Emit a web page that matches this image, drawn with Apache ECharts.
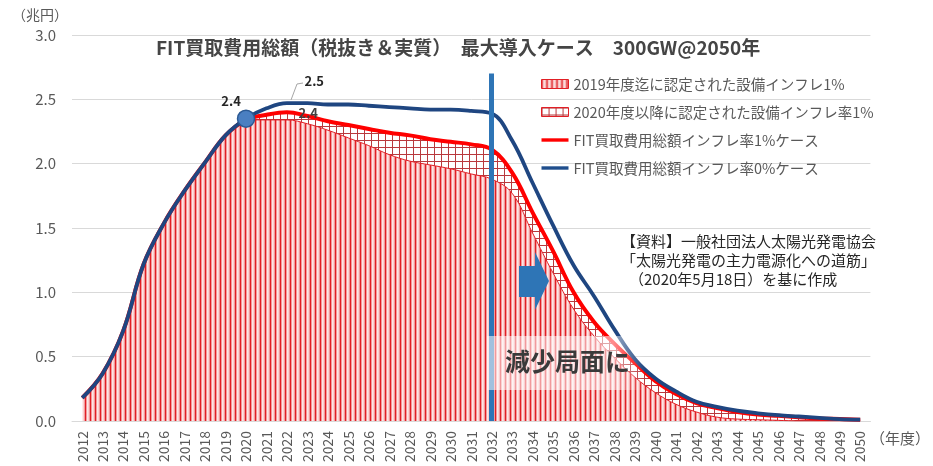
<!DOCTYPE html>
<html>
<head>
<meta charset="utf-8">
<script src="https://cdn.jsdelivr.net/npm/echarts@6/dist/echarts.min.js"></script>
<style>
  html, body { margin: 0; padding: 0; background: #fff; }
  #main { width: 933px; height: 466px; }
</style>
</head>
<body>
<div id="main"></div>
<script>
  // 年度
  var years = ['2012', '2013', '2014', '2015', '2016', '2017', '2018', '2019', '2020', '2021',
    '2022', '2023', '2024', '2025', '2026', '2027', '2028', '2029', '2030', '2031',
    '2032', '2033', '2034', '2035', '2036', '2037', '2038', '2039', '2040', '2041',
    '2042', '2043', '2044', '2045', '2046', '2047', '2048', '2049', '2050'];

  // 2019年度迄に認定された設備（縦縞）
  var certBefore2019 = [0.18, 0.37, 0.70, 1.22, 1.54, 1.79, 2.01, 2.22, 2.34,
    2.34, 2.34, 2.31, 2.26, 2.20, 2.14, 2.07, 2.02, 1.99, 1.96, 1.92, 1.88,
    1.77, 1.46, 1.15, 0.87, 0.66, 0.49, 0.34, 0.22, 0.13, 0.07, 0.03, 0.015, 0.01, 0.005, 0, 0, 0, 0];

  // 2020年度以降に認定された設備（格子）
  var certAfter2020 = [0, 0, 0, 0, 0, 0, 0, 0, 0,
    0.04, 0.06, 0.06, 0.07, 0.10, 0.13, 0.17, 0.20, 0.20, 0.21, 0.23, 0.23,
    0.16, 0.16, 0.17, 0.13, 0.11, 0.11, 0.11, 0.09, 0.08, 0.07, 0.07, 0.055, 0.04, 0.035, 0.03, 0.02, 0.015, 0.01];

  // FIT買取費用総額 インフレ率1%
  var totalInfl1 = [0.18, 0.37, 0.70, 1.22, 1.54, 1.79, 2.01, 2.22, 2.34,
    2.38, 2.40, 2.37, 2.33, 2.30, 2.27, 2.24, 2.22, 2.19, 2.17, 2.15, 2.11,
    1.93, 1.62, 1.32, 1.00, 0.77, 0.60, 0.45, 0.31, 0.21, 0.14, 0.10, 0.07, 0.05, 0.04, 0.03, 0.02, 0.015, 0.01];

  // FIT買取費用総額 インフレ率0%
  var totalInfl0 = [0.18, 0.37, 0.70, 1.22, 1.54, 1.79, 2.01, 2.22, 2.35,
    2.43, 2.47, 2.47, 2.46, 2.46, 2.45, 2.44, 2.43, 2.42, 2.42, 2.41, 2.39,
    2.18, 1.85, 1.52, 1.21, 0.97, 0.71, 0.48, 0.33, 0.23, 0.15, 0.11, 0.08, 0.06, 0.045, 0.035, 0.025, 0.015, 0.01];

  var seriesNames = ['2019年度迄に認定された設備インフレ1%', '2020年度以降に認定された設備インフレ率1%',
    'FIT買取費用総額インフレ率1%ケース', 'FIT買取費用総額インフレ率0%ケース'];

  var FONT = '"Noto Sans CJK JP", "Noto Sans", sans-serif';
  // 凡例の線アイコン（余白付きで細い帯にする）
  var LINE_ICON = 'path://M0,0 M0,9 M0,2.8 L27,2.8 L27,6.2 L0,6.2 Z';

  // 縦縞パターン
  function stripePattern() {
    var c = document.createElement('canvas');
    c.width = 5; c.height = 4;
    var ctx = c.getContext('2d');
    var cols = ['#e11f25', '#f29a9b', '#fde6e6', '#fbd0d0', '#f29a9b'];
    for (var i = 0; i < cols.length; i++) {
      ctx.fillStyle = cols[i];
      ctx.fillRect(i, 0, 1, 4);
    }
    return c;
  }
  // 格子パターン
  function gridPattern() {
    var c = document.createElement('canvas');
    c.width = 7; c.height = 7;
    var ctx = c.getContext('2d');
    ctx.fillStyle = '#ffffff';
    ctx.fillRect(0, 0, 7, 7);
    ctx.fillStyle = '#b9393d';
    ctx.fillRect(0, 0, 7, 1);
    ctx.fillRect(0, 0, 1, 7);
    return c;
  }
  var stripeFill = { image: stripePattern(), repeat: 'repeat' };
  var gridFill = { image: gridPattern(), repeat: 'repeat' };

  var myChart = echarts.init(document.getElementById('main'));

  var option = {
    backgroundColor: '#fff',
    textStyle: { fontFamily: FONT },
    title: {
      text: 'FIT買取費用総額（税抜き＆実質）　最大導入ケース　300GW@2050年',
      left: 151,
      top: 33,
      textStyle: { fontSize: 19, fontWeight: 'bold', color: '#454545', fontFamily: FONT }
    },
    legend: {
      orient: 'vertical',
      left: 536,
      top: 71,
      itemWidth: 27,
      itemHeight: 9,
      itemGap: 12,
      textStyle: { fontSize: 14.5, color: '#595959', lineHeight: 16, fontFamily: FONT },
      data: [
        { name: seriesNames[0], icon: 'rect', itemStyle: { color: stripeFill, borderColor: '#e11f25', borderWidth: 1 } },
        { name: seriesNames[1], icon: 'rect', itemStyle: { color: gridFill, borderColor: '#e11f25', borderWidth: 1 } },
        { name: seriesNames[2], icon: LINE_ICON, itemStyle: { color: '#ff0000', borderWidth: 0 } },
        { name: seriesNames[3], icon: LINE_ICON, itemStyle: { color: '#1f4e8c', borderWidth: 0 } }
      ]
    },
    grid: { left: 72, right: 56, top: 35, bottom: 45 },
    xAxis: {
      type: 'category',
      boundaryGap: true,
      data: years,
      name: '（年度）',
      nameLocation: 'end',
      nameGap: -5,
      nameTextStyle: { fontSize: 15, color: '#595959', align: 'left', verticalAlign: 'top', padding: [10, 0, 0, 0] },
      axisLine: { lineStyle: { color: '#d9d9d9' } },
      axisTick: { show: false },
      axisLabel: { interval: 0, rotate: 90, fontSize: 14, color: '#595959', margin: 10 }
    },
    yAxis: {
      type: 'value',
      min: 0,
      max: 3,
      interval: 0.5,
      name: '（兆円）',
      nameLocation: 'end',
      nameGap: 13,
      nameTextStyle: { fontSize: 14, color: '#595959', align: 'right', padding: [0, 4, 0, 0] },
      axisLine: { show: false },
      axisTick: { show: false },
      axisLabel: { fontSize: 15, color: '#595959', margin: 16, formatter: function (v) { return v.toFixed(1); } },
      splitLine: { lineStyle: { color: '#d9d9d9' } }
    },
    series: [
      {
        name: seriesNames[0],
        type: 'line',
        stack: 'cost',
        smooth: 0.4,
        symbol: 'none',
        lineStyle: { color: '#e11f25', width: 1 },
        itemStyle: { color: '#e11f25' },
        areaStyle: { color: stripeFill, opacity: 1 },
        data: certBefore2019,
        z: 1
      },
      {
        name: seriesNames[1],
        type: 'line',
        stack: 'cost',
        smooth: 0.4,
        symbol: 'none',
        lineStyle: { color: '#e11f25', width: 1 },
        itemStyle: { color: '#e11f25' },
        areaStyle: { color: gridFill, opacity: 1 },
        data: certAfter2020,
        z: 1
      },
      {
        name: seriesNames[2],
        type: 'line',
        smooth: 0.4,
        symbol: 'none',
        lineStyle: { color: '#ff0000', width: 4 },
        itemStyle: { color: '#ff0000' },
        data: totalInfl1,
        z: 3,
        markPoint: {
          symbol: 'circle',
          symbolSize: 1,
          itemStyle: { color: 'rgba(0,0,0,0)' },
          label: { show: true, position: 'right', offset: [6, 1], fontSize: 13, fontWeight: 'bold', color: '#404040' },
          data: [{ coord: ['2022', 2.40], value: '2.4' }]
        }
      },
      {
        name: seriesNames[3],
        type: 'line',
        smooth: 0.4,
        symbol: 'none',
        lineStyle: { color: '#1f4681', width: 3.8 },
        itemStyle: { color: '#1f4681' },
        data: totalInfl0,
        z: 4,
        markPoint: {
          data: [
            {
              coord: ['2020', 2.35], value: '2.4',
              symbol: 'circle', symbolSize: 17,
              itemStyle: { color: '#4a7fc1', borderColor: '#2c5a94', borderWidth: 1.5 },
              label: { show: true, position: 'top', offset: [-15, 3], fontSize: 13, fontWeight: 'bold', color: '#262626' }
            },
            {
              coord: ['2022', 2.47], value: '2.5',
              symbol: 'circle', symbolSize: 1,
              itemStyle: { color: 'rgba(0,0,0,0)' },
              label: { show: true, position: 'right', offset: [12, -22], fontSize: 13, fontWeight: 'bold', color: '#262626' }
            }
          ]
        },
        markLine: {
          silent: true,
          symbol: 'none',
          label: { show: false },
          lineStyle: { color: '#2e75b6', width: 5, type: 'solid' },
          data: [[{ coord: ['2032', 2.7] }, { coord: ['2032', 0] }]]
        }
      }
    ],
    graphic: [
      {
        type: 'polyline', z: 50,
        shape: { points: [[291, 100], [297, 84], [303, 83]] },
        style: { stroke: '#a6a6a6', lineWidth: 1, fill: null }
      },
      {
        type: 'polygon', z: 50,
        shape: { points: [[519, 266], [535, 266], [535, 252], [549, 281], [535, 310], [535, 297], [519, 297]] },
        style: { fill: '#2e75b6' }
      },
      {
        type: 'rect', z: 60,
        shape: { x: 487, y: 336, width: 158, height: 54 },
        style: {
          fill: new echarts.graphic.LinearGradient(0, 0, 1, 0, [
            { offset: 0, color: 'rgba(255,255,255,0.55)' },
            { offset: 0.8, color: 'rgba(255,255,255,0.55)' },
            { offset: 1, color: 'rgba(255,255,255,0)' }
          ])
        }
      },
      {
        type: 'text', z: 61, left: 505, top: 349,
        style: { text: '減少局面に', font: 'bold 25px ' + FONT, fill: '#3a3a3a' }
      },
      {
        type: 'text', z: 61, left: 621, top: 234,
        style: { text: '【資料】一般社団法人太陽光発電協会', font: '15px ' + FONT, fill: '#262626' }
      },
      {
        type: 'text', z: 61, left: 621, top: 253,
        style: { text: '「太陽光発電の主力電源化への道筋」', font: '15px ' + FONT, fill: '#262626' }
      },
      {
        type: 'text', z: 61, left: 629, top: 272,
        style: { text: '（2020年5月18日）を基に作成', font: '15px ' + FONT, fill: '#262626' }
      }
    ]
  };

  myChart.setOption(option);
</script>
</body>
</html>
